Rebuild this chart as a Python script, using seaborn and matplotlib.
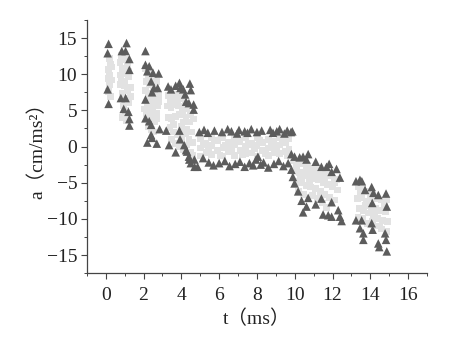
import matplotlib
matplotlib.use("Agg")
import matplotlib.pyplot as plt
from matplotlib.ticker import MultipleLocator
import seaborn as sns
import pandas as pd

# Envelope samples (dark triangles), grouped by time segment
tri_t_a = [0.15, 0.1, 0.1, 0.15, 0.85, 1.05, 1.1, 1.25, 1.25, 0.8, 1.05, 0.95, 1.2, 1.25, 1.25]
tri_a_a = [14.2, 12.9, 7.9, 5.9, 13.2, 13.2, 14.3, 12.1, 10.6, 6.7, 6.7, 5.2, 4.8, 3.8, 2.9]

tri_t_b = [2.1, 2.1, 2.3, 2.2, 2.5, 2.8, 2.4, 2.55, 2.75, 2.45, 2.1, 2.1, 2.3, 2.4, 2.85, 2.4, 2.45, 2.2, 2.7]
tri_a_b = [13.2, 11.3, 11.1, 10.4, 10.2, 10.1, 9.0, 8.1, 8.1, 7.5, 6.5, 3.9, 3.5, 3.0, 2.4, 1.6, 1.2, 0.55, 0.4]

tri_t_c = [3.3, 3.45, 3.7, 3.9, 3.95, 4.1, 4.45, 4.5, 4.2, 4.25, 4.4, 4.65, 4.65,
           3.2, 3.35, 3.7, 3.9, 4.15, 4.3, 4.4, 4.5, 4.7, 3.93, 4.25, 4.42, 4.69, 4.86]
tri_a_c = [8.3, 7.9, 8.4, 8.8, 8.1, 7.9, 8.7, 7.8, 7.2, 6.2, 6.0, 5.8, 5.1,
           2.2, 0.2, -0.8, 2.2, 0.2, -0.7, -1.4, -2.3, -2.8, 1.0, -0.5, -1.8, -1.8, -2.8]

tri_t_p = [4.95, 5.2, 5.4, 5.75, 6.15, 6.45, 6.65, 6.95, 7.05, 7.35, 7.5, 7.7, 8.0, 8.25, 8.7, 8.85,
           9.05, 9.2, 9.45, 9.6, 9.8,
           5.15, 5.45, 5.7, 6.0, 6.3, 6.55, 6.85, 7.1, 7.35, 7.6, 7.8, 8.05, 8.35, 8.6, 8.9, 9.15,
           9.4, 9.65, 7.95, 8.2]
tri_a_p = [2.0, 2.3, 1.9, 2.2, 2.0, 2.4, 2.1, 1.8, 2.3, 2.1, 1.9, 2.4, 2.0, 2.2, 2.3, 1.9,
           2.1, 2.4, 1.8, 2.2, 2.0,
           -1.6, -2.2, -2.6, -2.3, -2.0, -2.7, -2.4, -2.1, -2.8, -2.3, -2.6, -1.4, -2.2, -2.9, -2.4, -2.0,
           -2.7, -2.3, -1.8, -2.5]

tri_t_d = [9.87, 9.82, 9.99, 10.26, 10.44, 10.71, 10.62, 11.11, 11.41, 11.68, 11.82, 11.95, 12.21, 12.39,
           9.82, 9.9, 9.99, 10.18, 10.36, 10.71, 10.62, 10.44, 11.11, 11.41, 11.95, 11.5, 11.77,
           11.95, 12.3, 12.39, 12.48]
tri_a_d = [2.1, -1.05, -1.4, -1.5, -1.4, -1.05, -1.8, -2.1, -2.8, -2.8, -2.4, -3.5, -3.1, -4.3,
           -3.2, -4.2, -5.1, -6.2, -7.5, -7.1, -8.3, -9.1, -8.0, -7.2, -7.7, -9.4, -9.5,
           -9.7, -8.8, -9.7, -10.3]

tri_t_e = [13.24, 13.45, 13.55, 13.72, 14.07, 14.16, 14.42, 14.83, 14.87, 14.1,
           13.24, 13.54, 13.45, 13.63, 13.63, 14.07, 14.12, 14.42, 14.47, 14.78, 14.83, 14.87]
tri_a_e = [-4.8, -4.6, -4.8, -6.0, -5.6, -6.4, -6.7, -6.5, -8.3, -7.8,
           -10.2, -10.2, -11.3, -12.0, -12.9, -10.6, -11.5, -13.4, -13.9, -12.0, -12.9, -14.5]

# Interior samples (light squares)
sq_t_a = [0.2, 0.25, 0.15, 0.2, 0.3, 0.2, 0.15, 0.25, 0.3, 0.15,
          0.85, 1.0, 1.15, 0.9, 1.05, 1.2, 0.85, 1.0, 1.15, 0.9, 1.1, 1.2, 0.95, 1.05, 1.15, 0.9, 1.1, 1.0, 1.2,
          0.75, 0.8, 1.3, 1.3, 0.75]
sq_a_a = [12.2, 11.4, 10.6, 9.9, 9.2, 8.5, 7.6, 6.9, 11.0, 9.4,
          12.6, 12.0, 11.3, 10.8, 10.1, 9.6, 9.0, 8.4, 7.8, 7.3, 6.6, 6.1, 5.6, 5.0, 4.4, 4.0, 3.6, 8.9, 10.4,
          11.6, 9.9, 8.2, 6.9, 8.6]

sq_t_b = [2.1, 2.25, 2.4, 2.55, 2.7, 2.15, 2.3, 2.5, 2.65, 2.8, 2.1, 2.25, 2.45, 2.6, 2.75,
          2.2, 2.35, 2.5, 2.7, 2.15, 2.3, 2.45, 2.6, 2.25, 2.4, 2.55,
          2.35, 2.6, 2.8, 2.05, 2.4, 2.7]
sq_a_b = [10.8, 10.0, 9.6, 9.2, 9.0, 9.0, 8.6, 7.6, 7.2, 7.0, 7.8, 6.8, 6.4, 6.0, 5.6,
          5.8, 5.2, 4.8, 4.6, 4.6, 4.2, 3.8, 3.4, 2.8, 2.4, 2.0,
          7.4, 8.2, 6.2, 5.2, 5.9, 3.9]

sq_t_c = [3.3, 3.5, 3.7, 3.9, 4.1, 4.3, 4.5, 3.25, 3.45, 3.65, 3.85, 4.05, 4.25, 4.45, 4.65,
          3.3, 3.5, 3.7, 3.9, 4.1, 4.3, 4.55, 3.4, 3.6, 3.8, 4.0, 4.2, 4.4, 4.6,
          3.5, 3.7, 3.9, 4.1, 4.3, 4.5,
          3.4, 3.8, 4.2, 4.0, 3.6, 4.6]
sq_a_c = [7.0, 6.8, 7.2, 7.0, 6.6, 5.2, 4.4, 5.6, 5.4, 5.8, 5.6, 5.0, 4.0, 3.4, 3.8,
          4.0, 3.8, 4.2, 4.4, 3.4, 2.4, 2.0, 2.6, 2.0, 1.6, 2.8, 1.8, 1.0, 0.6,
          1.0, 0.4, 0.0, -0.4, 0.2, -0.8,
          6.2, 6.4, 6.0, 1.2, 3.0, -1.2]

sq_t_p = [5.0, 5.0, 5.0, 5.3, 5.3, 5.6, 5.6, 5.6, 5.9, 5.9, 6.2, 6.2, 6.2, 6.5, 6.5, 6.8, 6.8, 6.8,
          7.1, 7.1, 7.4, 7.4, 7.4, 7.7, 7.7, 8.0, 8.0, 8.0, 8.3, 8.3, 8.6, 8.6, 8.6, 8.9, 8.9,
          9.2, 9.2, 9.2, 9.5, 9.5, 9.7, 9.7,
          5.15, 5.45, 5.75, 6.05, 6.35, 6.65, 6.95, 7.25, 7.55, 7.85, 8.15, 8.45, 8.75, 9.05, 9.35, 9.6]
sq_a_p = [1.1, -0.2, -1.3, 0.5, -0.8, 1.3, 0.1, -1.1, 0.8, -0.5, 1.2, -0.1, -1.3, 0.6, -0.7, 1.1, 0.2, -1.2,
          0.7, -0.6, 1.3, 0.0, -1.0, 0.5, -0.9, 1.2, 0.1, -1.3, 0.6, -0.6, 1.0, -0.2, -1.2, 0.7, -0.8,
          1.3, 0.2, -1.0, 0.5, -0.7, 1.1, -0.4,
          0.2, -0.3, 0.9, -1.2, 0.1, -0.4, 0.8, -1.1, 0.3, -0.3, 0.9, -1.0, 0.1, -0.2, 1.0, -1.2]

sq_t_d = [9.95, 10.2, 10.45, 10.7, 10.95, 11.2, 11.45, 11.7, 11.95, 12.2,
          10.0, 10.25, 10.5, 10.75, 11.0, 11.25, 11.5, 11.75, 12.0, 12.25,
          10.1, 10.35, 10.6, 10.85, 11.1, 11.35, 11.6, 11.85, 12.1,
          10.2, 10.45, 10.95, 11.2, 11.45, 11.7,
          10.1, 10.6, 11.1, 11.6, 12.1, 10.3, 10.8]
sq_a_d = [-2.0, -2.2, -2.4, -2.6, -3.0, -3.2, -3.6, -3.6, -4.0, -4.6,
          -3.4, -3.6, -4.0, -3.8, -4.4, -4.6, -5.0, -5.2, -5.6, -6.0,
          -4.8, -5.0, -5.4, -5.6, -5.8, -6.2, -6.6, -7.0, -7.4,
          -6.2, -6.6, -6.8, -7.2, -7.8, -8.4,
          -2.7, -3.1, -3.7, -4.3, -5.0, -4.3, -4.7]

sq_t_e = [13.35, 13.6, 13.85, 14.1, 14.35, 14.6, 14.85, 13.3, 13.55, 13.8, 14.05, 14.3, 14.55, 14.8,
          13.4, 13.65, 13.9, 14.15, 14.4, 14.65, 14.9, 13.35, 13.6, 13.85, 14.1, 14.35, 14.6, 14.85,
          13.5, 13.75, 14.0, 14.25, 14.5, 14.75]
sq_a_e = [-5.6, -5.8, -6.2, -6.8, -7.2, -7.4, -7.4, -7.2, -7.0, -7.6, -8.4, -8.6, -8.8, -9.0,
          -8.6, -8.8, -9.2, -9.6, -10.0, -10.2, -10.4, -9.8, -10.0, -10.6, -10.4, -11.0, -11.4, -11.8,
          -6.4, -8.1, -7.0, -9.0, -11.0, -8.2]

x_ticks = [0, 2, 4, 6, 8, 10, 12, 14, 16]
y_ticks = [-15, -10, -5, 0, 5, 10, 15]

tri = pd.DataFrame({
    "t": tri_t_a + tri_t_b + tri_t_c + tri_t_p + tri_t_d + tri_t_e,
    "a": tri_a_a + tri_a_b + tri_a_c + tri_a_p + tri_a_d + tri_a_e,
})
sq = pd.DataFrame({
    "t": sq_t_a + sq_t_b + sq_t_c + sq_t_p + sq_t_d + sq_t_e,
    "a": sq_a_a + sq_a_b + sq_a_c + sq_a_p + sq_a_d + sq_a_e,
})

sns.set_style("ticks")
plt.rcParams["font.family"] = ["Liberation Serif", "Noto Sans CJK SC"]
plt.rcParams["axes.unicode_minus"] = True

fig = plt.figure(figsize=(4.5, 3.38), dpi=100)
ax = fig.add_axes([0.193, 0.192, 0.756, 0.749])

sns.scatterplot(data=sq, x="t", y="a", marker="s", s=24, color="#e2e2e2",
                edgecolor="none", linewidth=0, ax=ax, zorder=2)
sns.scatterplot(data=tri, x="t", y="a", marker="^", s=38, color="#5c5c5c",
                edgecolor="none", linewidth=0, ax=ax, zorder=3)

ax.set_xlim(-1, 17)
ax.set_ylim(-17.5, 17.5)
ax.set_xticks(x_ticks)
ax.set_yticks(y_ticks)
ax.set_xticklabels([str(v) for v in x_ticks])
ax.set_yticklabels([str(v).replace("-", "\u2212") for v in y_ticks])
ax.xaxis.set_minor_locator(MultipleLocator(1))
ax.yaxis.set_minor_locator(MultipleLocator(2.5))

for side in ("top", "right"):
    ax.spines[side].set_visible(False)
for side in ("left", "bottom"):
    ax.spines[side].set_color("#444444")
    ax.spines[side].set_linewidth(0.9)

ax.tick_params(which="major", direction="out", length=4, width=0.8, color="#444444",
               labelsize=14, labelcolor="#222222")
ax.tick_params(axis="x", which="major", pad=6)
ax.tick_params(axis="y", which="major", pad=3)
ax.tick_params(which="minor", direction="out", length=2.5, width=0.7, color="#444444")

ax.set_xlabel("t（ms）", fontsize=14, color="#222222", labelpad=4)
ax.set_ylabel("a（cm/ms²）", fontsize=14, color="#222222", labelpad=0)

fig.savefig("out.png", dpi=100)
